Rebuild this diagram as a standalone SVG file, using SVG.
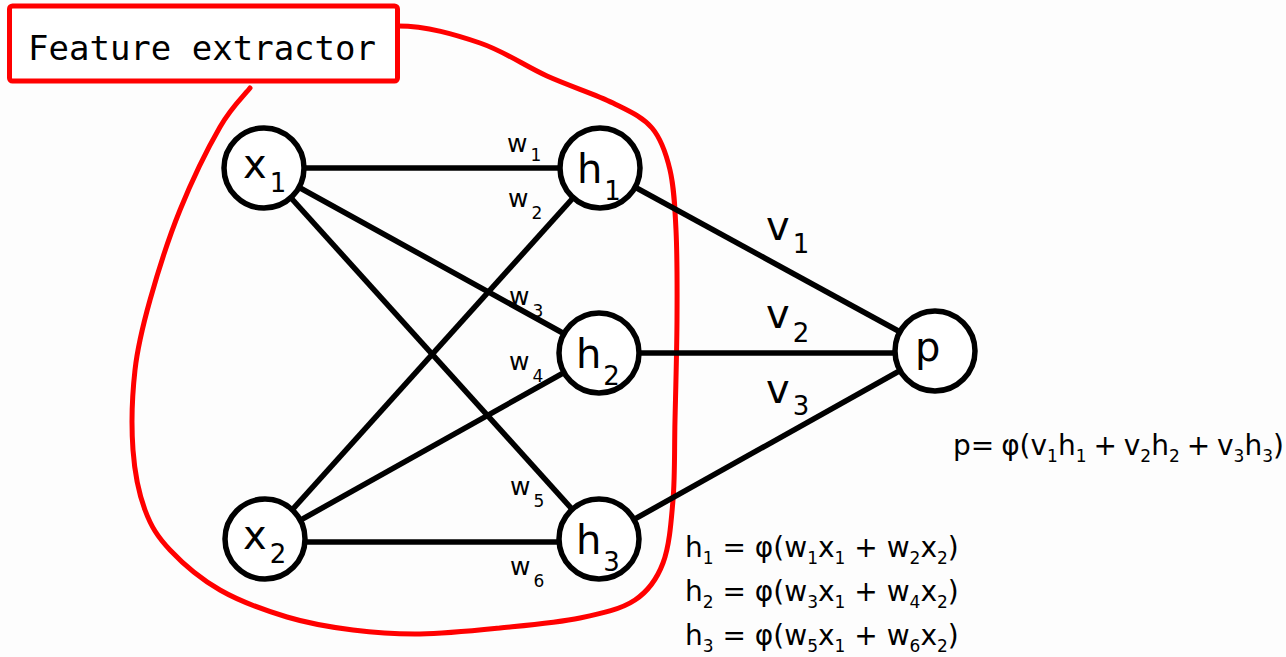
<svg xmlns="http://www.w3.org/2000/svg" width="1286" height="657" viewBox="0 0 1286 657">
<style>
.edge{stroke:#000;stroke-width:5.5;fill:none}
.node{fill:#fff;stroke:#000;stroke-width:5.5}
.t{font-family:"DejaVu Sans",sans-serif;fill:#000}
.lbl{font-size:40px}
.lsub{font-size:26px}
.w{font-size:25px}
.wsub{font-size:17px}
.eq{font-size:28px}
.red{fill:none;stroke:#ff0000;stroke-width:5;stroke-linejoin:round;stroke-linecap:round}
</style>
<rect width="1286" height="657" fill="#fdfdfd"/>
<g id="feature-extractor-outline">
<path class="red" d="M 398 26 C 427 26 455.5 34.7 480 43 C 504.5 51.3 524.8 66 547 76 C 569.2 86 595.5 94.3 613 103 C 630.5 111.7 642.5 116.8 652 128 C 661.5 139.2 666 153 670 170 C 674 187 674.8 205 676 230 C 677.2 255 677.2 288.3 677 320 C 676.8 351.7 675.7 390 675 420 C 674.3 450 675 476.2 673 500 C 671 523.8 669.3 546.3 663 563 C 656.7 579.7 648.8 590.8 635 600 C 621.2 609.2 602.5 613.3 580 618 C 557.5 622.7 526.7 625.3 500 628 C 473.3 630.7 444.5 633.7 420 634 C 395.5 634.3 375.2 632.8 353 630 C 330.8 627.2 309.2 623.7 287 617 C 264.8 610.3 239.5 601.2 220 590 C 200.5 578.8 182.5 563.3 170 550 C 157.5 536.7 151.2 526.7 145 510 C 138.8 493.3 134.7 473.3 133 450 C 131.3 426.7 132.2 395 135 370 C 137.8 345 142.5 326.7 150 300 C 157.5 273.3 168.3 238.8 180 210 C 191.7 181.2 208.3 147.3 220 127 C 231.7 106.7 245 94.5 250 88"/>
</g>
<g id="label-box">
<rect x="9.5" y="6" width="388" height="75" rx="3" fill="#fff" stroke="#ff0000" stroke-width="5"/>
<text x="28" y="60" font-family="'DejaVu Sans Mono','Liberation Mono',monospace" font-size="34" fill="#000">Feature extractor</text>
</g>
<g id="connectors">
<line class="edge" x1="264" y1="168" x2="600" y2="168"/>
<line class="edge" x1="264" y1="168" x2="599" y2="353"/>
<line class="edge" x1="264" y1="168" x2="599" y2="539"/>
<line class="edge" x1="265" y1="540" x2="600" y2="168"/>
<line class="edge" x1="265" y1="540" x2="599" y2="353"/>
<line class="edge" x1="265" y1="542" x2="599" y2="542"/>
<line class="edge" x1="600" y1="168" x2="935" y2="351"/>
<line class="edge" x1="599" y1="353" x2="935" y2="353"/>
<line class="edge" x1="599" y1="539" x2="935" y2="351"/>
<text class="t w" x="507" y="152">w<tspan class="wsub" dx="3" dy="9">1</tspan></text>
<text class="t w" x="508" y="207">w<tspan class="wsub" dx="3" dy="12">2</tspan></text>
<text class="t w" x="509" y="305">w<tspan class="wsub" dx="3" dy="12">3</tspan></text>
<text class="t w" x="509" y="370">w<tspan class="wsub" dx="3" dy="12">4</tspan></text>
<text class="t w" x="510" y="495">w<tspan class="wsub" dx="3" dy="12">5</tspan></text>
<text class="t w" x="510" y="575">w<tspan class="wsub" dx="3" dy="12">6</tspan></text>
<text class="t lbl" x="766" y="240">v<tspan class="lsub" dx="3" dy="13">1</tspan></text>
<text class="t lbl" x="766" y="328">v<tspan class="lsub" dx="3" dy="14">2</tspan></text>
<text class="t lbl" x="766" y="403">v<tspan class="lsub" dx="3" dy="12">3</tspan></text>
</g>
<g id="node-x1">
<circle class="node" cx="264" cy="168" r="40"/>
<text class="t lbl" x="243" y="178">x<tspan class="lsub" dx="3" dy="14">1</tspan></text>
</g>
<g id="node-x2">
<circle class="node" cx="265" cy="539" r="40"/>
<text class="t lbl" x="243" y="549">x<tspan class="lsub" dx="3" dy="14">2</tspan></text>
</g>
<g id="node-h1">
<circle class="node" cx="600" cy="168" r="40"/>
<text class="t lbl" x="577" y="183">h<tspan class="lsub" dx="2" dy="17">1</tspan></text>
</g>
<g id="node-h2">
<circle class="node" cx="599" cy="353" r="40"/>
<text class="t lbl" x="576" y="368">h<tspan class="lsub" dx="2" dy="17">2</tspan></text>
</g>
<g id="node-h3">
<circle class="node" cx="599" cy="539" r="40"/>
<text class="t lbl" x="576" y="554">h<tspan class="lsub" dx="2" dy="17">3</tspan></text>
</g>
<g id="node-p">
<circle class="node" cx="935" cy="351" r="40"/>
<text class="t lbl" x="915" y="361">p</text>
</g>
<g id="equations">
<text class="t eq" x="953" y="455" font-size="27" word-spacing="-2">p= φ(v<tspan font-size="17" dy="7">1</tspan><tspan dy="-7">h</tspan><tspan font-size="17" dy="7">1</tspan><tspan dy="-7"> + v</tspan><tspan font-size="17" dy="7">2</tspan><tspan dy="-7">h</tspan><tspan font-size="17" dy="7">2</tspan><tspan dy="-7"> + v</tspan><tspan font-size="17" dy="7">3</tspan><tspan dy="-7">h</tspan><tspan font-size="17" dy="7">3</tspan><tspan dy="-7">)</tspan></text>
<text class="t eq" x="685" y="557">h<tspan font-size="17" dy="7">1</tspan><tspan dy="-7"> = φ(w</tspan><tspan font-size="17" dy="7">1</tspan><tspan dy="-7">x</tspan><tspan font-size="17" dy="7">1</tspan><tspan dy="-7"> + w</tspan><tspan font-size="17" dy="7">2</tspan><tspan dy="-7">x</tspan><tspan font-size="17" dy="7">2</tspan><tspan dy="-7">)</tspan></text>
<text class="t eq" x="685" y="601">h<tspan font-size="17" dy="7">2</tspan><tspan dy="-7"> = φ(w</tspan><tspan font-size="17" dy="7">3</tspan><tspan dy="-7">x</tspan><tspan font-size="17" dy="7">1</tspan><tspan dy="-7"> + w</tspan><tspan font-size="17" dy="7">4</tspan><tspan dy="-7">x</tspan><tspan font-size="17" dy="7">2</tspan><tspan dy="-7">)</tspan></text>
<text class="t eq" x="685" y="645">h<tspan font-size="17" dy="7">3</tspan><tspan dy="-7"> = φ(w</tspan><tspan font-size="17" dy="7">5</tspan><tspan dy="-7">x</tspan><tspan font-size="17" dy="7">1</tspan><tspan dy="-7"> + w</tspan><tspan font-size="17" dy="7">6</tspan><tspan dy="-7">x</tspan><tspan font-size="17" dy="7">2</tspan><tspan dy="-7">)</tspan></text>
</g>
</svg>
